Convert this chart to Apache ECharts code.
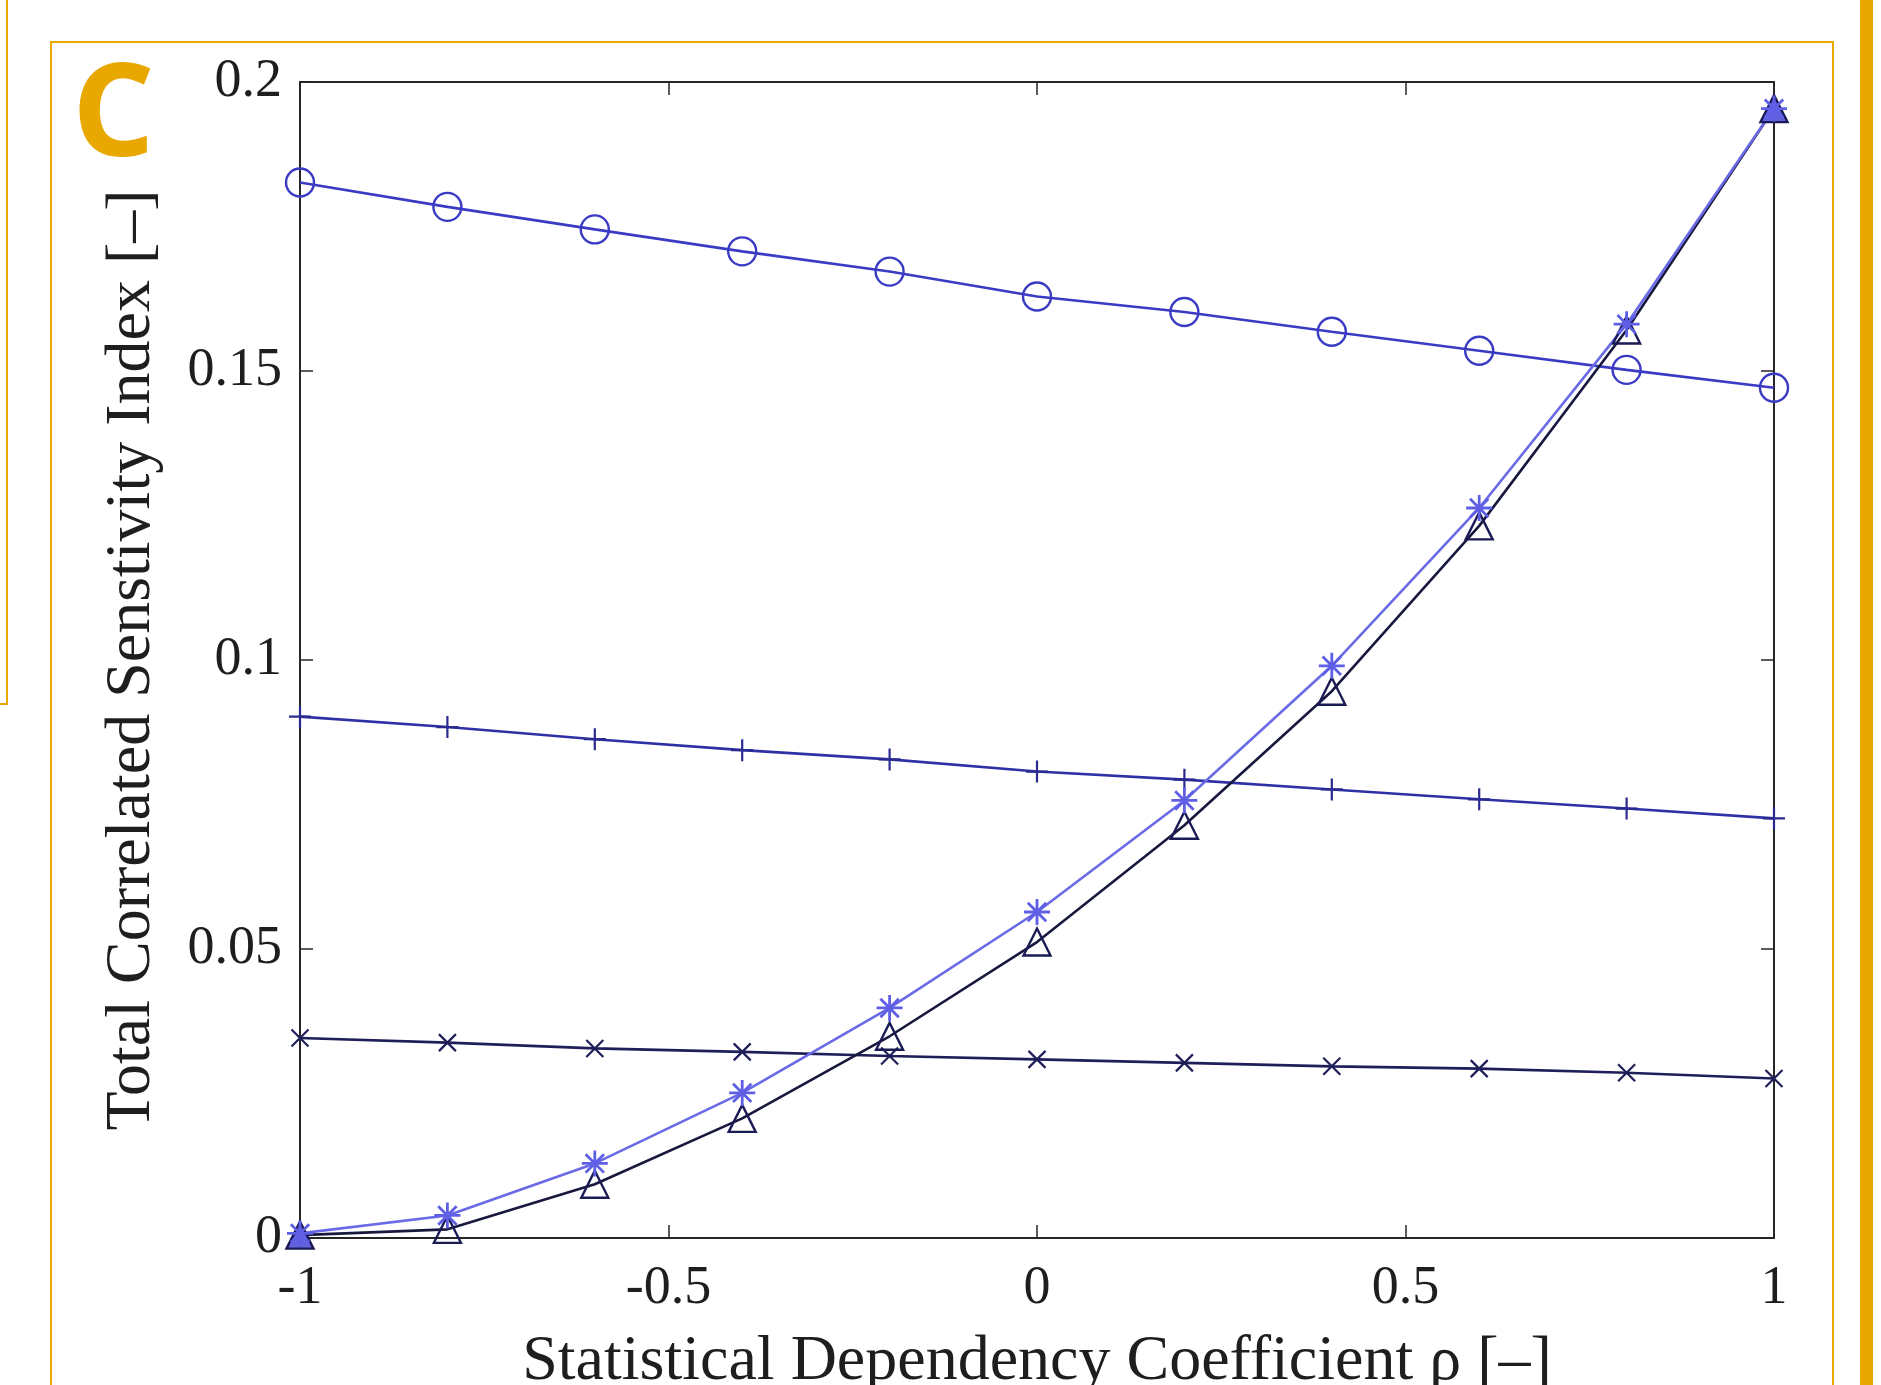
<!DOCTYPE html>
<html>
<head>
<meta charset="utf-8">
<script src="https://cdn.jsdelivr.net/npm/echarts@6/dist/echarts.min.js"></script>
<style>
  html, body { margin: 0; padding: 0; background: #fff; }
  #chart { width: 1881px; height: 1385px; }
</style>
</head>
<body>
<div id="chart"></div>
<script>
// statistical dependency coefficient rho
const rho = [-1, -0.8, -0.6, -0.4, -0.2, 0, 0.2, 0.4, 0.6, 0.8, 1];

// total correlated sensitivity index, one array per marker
const circleVals = [0.1826, 0.1784, 0.1745, 0.1707, 0.1672, 0.1629, 0.1602, 0.1568, 0.1535, 0.1502, 0.1471];
const plusVals = [0.0902, 0.0884, 0.0863, 0.0844, 0.0828, 0.0807, 0.0793, 0.0776, 0.0759, 0.0743, 0.0726];
const crossVals = [0.0346, 0.0338, 0.0328, 0.0322, 0.0315, 0.0309, 0.0303, 0.0297, 0.0293, 0.0286, 0.0276];
const triangleVals = [0.0005, 0.0015, 0.0093, 0.0207, 0.0349, 0.0512, 0.0714, 0.0946, 0.1232, 0.1571, 0.1954];
const starVals = [0.0008, 0.0039, 0.0129, 0.0251, 0.0398, 0.0564, 0.0757, 0.0990, 0.1263, 0.1581, 0.1954];

const xTicks = ['-1', '-0.5', '0', '0.5', '1'];
const yTicks = ['0', '0.05', '0.1', '0.15', '0.2'];

const ORANGE = '#e8a800';
const AXIS = '#262626';
const TEXT = '#1e1e1e';
const SERIF = '"Liberation Serif", "DejaVu Serif", serif';

const plusPath = 'path://M0,-10L0,10M-10,0L10,0';
const crossPath = 'path://M-10,-10L10,10M-10,10L10,-10';
const starPath = 'path://M0,-10L0,10M-10,0L10,0M-7.07,-7.07L7.07,7.07M-7.07,7.07L7.07,-7.07';

function pairs(vals) {
  return rho.map((r, i) => [r, vals[i]]);
}

function lineSeries(name, vals, lineColor, symbol, size, markColor, width) {
  return {
    name: name,
    type: 'line',
    data: pairs(vals),
    symbol: symbol,
    symbolSize: size,
    showAllSymbol: true,
    animation: false,
    lineStyle: { color: lineColor, width: 2.6 },
    itemStyle: { color: 'transparent', borderColor: markColor, borderWidth: width },
    emphasis: { disabled: true },
    clip: false,
  };
}

const chart = echarts.init(document.getElementById('chart'));

const tickStyle = { show: true, inside: true, length: 13, lineStyle: { color: AXIS, width: 1.5 } };

// triangle ends look filled where the star sits on top
const triData = pairs(triangleVals).map((p, i) => {
  if (i === 0 || i === rho.length - 1) {
    return { value: p, itemStyle: { color: '#6262e0' } };
  }
  return p;
});

const triSeries = lineSeries('triangle', triangleVals, '#18183f', 'triangle', 27, '#1a1a55', 2.4);
triSeries.data = triData;

const option = {
  backgroundColor: '#fff',
  animation: false,
  grid: { left: 300, top: 82, width: 1474, height: 1156, containLabel: false, outerBoundsMode: 'none' },
  xAxis: [
    {
      type: 'value',
      min: -1,
      max: 1,
      interval: 0.5,
      position: 'bottom',
      axisLine: { show: true, onZero: false, lineStyle: { color: AXIS, width: 2 } },
      axisTick: tickStyle,
      splitLine: { show: false },
      axisLabel: {
        color: TEXT,
        fontFamily: SERIF,
        fontSize: 54,
        margin: 24,
        formatter: (v) => xTicks[Math.round((v + 1) / 0.5)],
      },
      name: 'Statistical Dependency Coefficient ρ [–]',
      nameLocation: 'middle',
      nameGap: 92,
      nameTextStyle: { color: TEXT, fontFamily: SERIF, fontSize: 64 },
    },
    {
      type: 'value',
      min: -1,
      max: 1,
      interval: 0.5,
      position: 'top',
      axisLine: { show: true, onZero: false, lineStyle: { color: AXIS, width: 2 } },
      axisTick: tickStyle,
      axisLabel: { show: false },
      splitLine: { show: false },
    },
  ],
  yAxis: [
    {
      type: 'value',
      min: 0,
      max: 0.2,
      interval: 0.05,
      position: 'left',
      axisLine: { show: true, onZero: false, lineStyle: { color: AXIS, width: 2 } },
      axisTick: tickStyle,
      splitLine: { show: false },
      axisLabel: {
        color: TEXT,
        fontFamily: SERIF,
        fontSize: 54,
        margin: 18,
        formatter: (v) => yTicks[Math.round(v / 0.05)],
      },
      name: 'Total Correlated Senstivity Index [–]',
      nameLocation: 'middle',
      nameGap: 136,
      nameTextStyle: { color: TEXT, fontFamily: SERIF, fontSize: 64 },
    },
    {
      type: 'value',
      min: 0,
      max: 0.2,
      interval: 0.05,
      position: 'right',
      axisLine: { show: true, onZero: false, lineStyle: { color: AXIS, width: 2 } },
      axisTick: tickStyle,
      axisLabel: { show: false },
      splitLine: { show: false },
    },
  ],
  series: [
    lineSeries('circle', circleVals, '#3a3ac4', 'circle', 28, '#3a3ac4', 2.4),
    lineSeries('plus', plusVals, '#2f2fa6', plusPath, 22, '#2a2a90', 2.2),
    lineSeries('cross', crossVals, '#1e1e58', crossPath, 17, '#1e1e58', 2.2),
    triSeries,
    lineSeries('star', starVals, '#6a6ae6', starPath, 26, '#5f5fe6', 2.8),
  ],
  graphic: [
    // panel frame
    {
      type: 'rect',
      shape: { x: 51, y: 42, width: 1782, height: 1400 },
      style: { fill: 'none', stroke: ORANGE, lineWidth: 2 },
      silent: true,
    },
    // neighbouring panel edge on the left
    {
      type: 'polyline',
      shape: { points: [[7, 0], [7, 704], [0, 704]] },
      style: { fill: 'none', stroke: ORANGE, lineWidth: 2 },
      silent: true,
    },
    // thick bar on the right
    {
      type: 'rect',
      shape: { x: 1860, y: 0, width: 13, height: 1385 },
      style: { fill: ORANGE },
      silent: true,
    },
    {
      type: 'text',
      left: 72,
      top: 54,
      style: {
        text: 'C',
        fill: ORANGE,
        font: 'bold 130px "Open Sans", "Noto Sans", sans-serif',
      },
      silent: true,
    },
  ],
};

chart.setOption(option);
window.addEventListener('resize', () => {
  chart.resize();
});
</script>
</body>
</html>
